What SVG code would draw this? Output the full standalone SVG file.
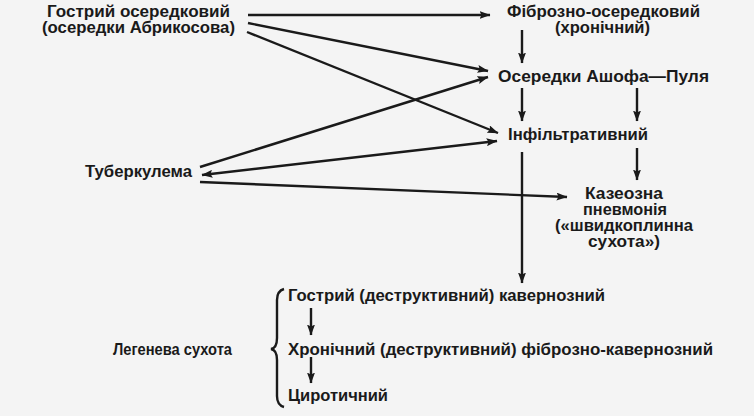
<svg xmlns="http://www.w3.org/2000/svg" width="754" height="416" viewBox="0 0 754 416">
<style>
text{font-family:"Liberation Sans",Arial,sans-serif;font-size:16px;font-weight:bold;fill:#1a1a1a}
.c line,.c path{stroke:#1a1a1a;stroke-width:2.4;fill:none}
.a{marker-end:url(#ah)}
.b{marker-start:url(#ah);marker-end:url(#ah)}
</style>
<defs>
<marker id="ah" viewBox="0 0 11 8" refX="10.5" refY="4" markerWidth="11" markerHeight="8" markerUnits="userSpaceOnUse" orient="auto-start-reverse">
<path d="M0,0 L11,4 L0,8 L2,4 z" fill="#1a1a1a"/>
</marker>
</defs>
<rect width="754" height="416" fill="#f4f4f4"/>
<g id="n-gostryi">
<text x="47" y="17" textLength="183" lengthAdjust="spacingAndGlyphs">Гострий осередковий</text>
<text x="42" y="33" textLength="193" lengthAdjust="spacingAndGlyphs">(осередки Абрикосова)</text>
</g>
<g id="n-fibrozno">
<text x="507" y="17" textLength="193" lengthAdjust="spacingAndGlyphs">Фіброзно-осередковий</text>
<text x="555" y="33" textLength="95" lengthAdjust="spacingAndGlyphs">(хронічний)</text>
</g>
<g id="n-ashof">
<text x="498" y="82" textLength="211" lengthAdjust="spacingAndGlyphs">Осередки Ашофа—Пуля</text>
</g>
<g id="n-infiltr">
<text x="508" y="140" textLength="140" lengthAdjust="spacingAndGlyphs">Інфільтративний</text>
</g>
<g id="n-tuberk">
<text x="85" y="177" textLength="107" lengthAdjust="spacingAndGlyphs">Туберкулема</text>
</g>
<g id="n-kazeozna">
<text x="585" y="199" textLength="78" lengthAdjust="spacingAndGlyphs">Казеозна</text>
<text x="583" y="215" textLength="84" lengthAdjust="spacingAndGlyphs">пневмонія</text>
<text x="555" y="231" textLength="138" lengthAdjust="spacingAndGlyphs">(«швидкоплинна</text>
<text x="588" y="247" textLength="72" lengthAdjust="spacingAndGlyphs">сухота»)</text>
</g>
<g id="n-legeneva">
<text x="113" y="355" textLength="119" lengthAdjust="spacingAndGlyphs">Легенева сухота</text>
</g>
<g id="n-kavern">
<text x="288" y="301" textLength="317" lengthAdjust="spacingAndGlyphs">Гострий (деструктивний) кавернозний</text>
</g>
<g id="n-fibrokavern">
<text x="288" y="355" textLength="425" lengthAdjust="spacingAndGlyphs">Хронічний (деструктивний) фіброзно-кавернозний</text>
</g>
<g id="n-cyrot">
<text x="288" y="401" textLength="100" lengthAdjust="spacingAndGlyphs">Циротичний</text>
</g>
<g id="connectors" class="c">
<line class="a" x1="248" y1="15" x2="490" y2="15"/>
<line class="a" x1="248" y1="23" x2="488" y2="71"/>
<line class="a" x1="247" y1="32" x2="498" y2="133"/>
<line class="a" x1="200" y1="167" x2="488" y2="77"/>
<line class="b" x1="202" y1="175" x2="497" y2="141"/>
<line class="a" x1="200" y1="182" x2="567" y2="197"/>
<line class="a" x1="522" y1="30" x2="522" y2="63"/>
<line class="a" x1="522" y1="88" x2="522" y2="121"/>
<line class="a" x1="637" y1="88" x2="637" y2="121"/>
<line class="a" x1="637" y1="148" x2="637" y2="180"/>
<line class="a" x1="522" y1="152" x2="522" y2="283"/>
<line class="a" x1="311" y1="308" x2="311" y2="335"/>
<line class="a" x1="311" y1="357" x2="311" y2="383"/>
<path d="M284,289 Q277,291 277,300 L277,338 Q277,348 271,349 Q277,350 277,360 L277,396 Q277,405 284,407"/>
</g>
</svg>
